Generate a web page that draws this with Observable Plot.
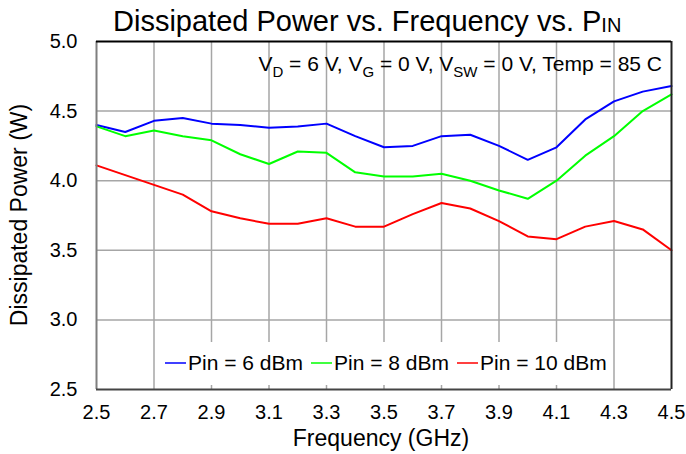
<!DOCTYPE html>
<html>
<head>
<meta charset="utf-8">
<script src="https://cdn.jsdelivr.net/npm/d3@7"></script>
<script src="https://cdn.jsdelivr.net/npm/@observablehq/plot@0.6"></script>
<style>
  html, body { margin: 0; padding: 0; background: #fff; }
  #chart svg { display: block; font-family: "Liberation Sans", Arial, sans-serif; }
</style>
</head>
<body>
<div id="chart"></div>
<script>
const freq = [2.5, 2.6, 2.7, 2.8, 2.9, 3.0, 3.1, 3.2, 3.3, 3.4, 3.5, 3.6, 3.7, 3.8, 3.9, 4.0, 4.1, 4.2, 4.3, 4.4, 4.5];
const pin6  = [4.40, 4.35, 4.43, 4.45, 4.41, 4.40, 4.38, 4.39, 4.41, 4.32, 4.24, 4.25, 4.32, 4.33, 4.25, 4.15, 4.24, 4.44, 4.57, 4.64, 4.68];
const pin8  = [4.39, 4.32, 4.36, 4.32, 4.29, 4.19, 4.12, 4.21, 4.20, 4.06, 4.03, 4.03, 4.05, 4.00, 3.93, 3.87, 4.00, 4.18, 4.32, 4.50, 4.62];
const pin10 = [4.11, 4.04, 3.97, 3.90, 3.78, 3.73, 3.69, 3.69, 3.73, 3.67, 3.67, 3.76, 3.84, 3.80, 3.71, 3.60, 3.58, 3.67, 3.71, 3.65, 3.50];
const seriesNames = ["Pin = 6 dBm", "Pin = 8 dBm", "Pin = 10 dBm"];
const seriesColors = ["#0000ff", "#00ff00", "#ff0000"];
const xTicks = [2.5, 2.7, 2.9, 3.1, 3.3, 3.5, 3.7, 3.9, 4.1, 4.3, 4.5];
const yTicks = [2.5, 3.0, 3.5, 4.0, 4.5, 5.0];
const titleText = "Dissipated Power vs. Frequency vs. P";
const titleSub = "IN";
const xLabel = "Frequency (GHz)";
const yLabel = "Dissipated Power (W)";

const allSeries = [pin6, pin8, pin10];
const data = [];
allSeries.forEach((vals, si) => vals.forEach((v, i) => data.push({f: freq[i], p: v, s: seriesNames[si]})));

const W = 686, H = 454;
const mL = 96, mR = 15, mT = 41, mB = 65;

const chart = Plot.plot({
  width: W, height: H,
  marginLeft: mL, marginRight: mR, marginTop: mT, marginBottom: mB,
  style: {fontFamily: "Liberation Sans, Arial, sans-serif", background: "#fff"},
  x: {domain: [2.5, 4.5], label: null},
  y: {domain: [2.5, 5.0], label: null},
  color: {domain: seriesNames, range: seriesColors},
  marks: [
    Plot.ruleX(xTicks.slice(1, -1), {stroke: "#a6a6a6", strokeWidth: 1.5}),
    Plot.ruleY(yTicks.slice(1, -1), {stroke: "#a6a6a6", strokeWidth: 1.5}),
    Plot.line(data, {x: "f", y: "p", z: "s", stroke: "s", strokeWidth: 2}),
    Plot.ruleX([2.5], {stroke: "#7f7f7f", strokeWidth: 2}),
    Plot.ruleX([4.5], {stroke: "#222", strokeWidth: 2}),
    Plot.ruleY([2.5], {stroke: "#444", strokeWidth: 2}),
    Plot.ruleY([5.0], {stroke: "#000", strokeWidth: 2}),
    Plot.axisX(xTicks, {tickSize: 0, tickPadding: 15, fontSize: 20, tickFormat: d => d.toFixed(1), label: null, fill: "#000"}),
    Plot.axisY(yTicks, {tickSize: 0, tickPadding: 19, fontSize: 20, tickFormat: d => d.toFixed(1), label: null, fill: "#000"})
  ]
});
document.getElementById("chart").appendChild(chart);

const svg = d3.select(chart);
// Title
const t = svg.append("text").attr("x", 113).attr("y", 31).attr("text-anchor", "start")
  .attr("font-size", 29).attr("fill", "#000");
t.append("tspan").text(titleText);
t.append("tspan").attr("font-size", 20).attr("dy", 1).text(titleSub);

// Axis labels
svg.append("text").attr("x", 381).attr("y", 446).attr("text-anchor", "middle")
  .attr("font-size", 23).attr("fill", "#000").text(xLabel);
svg.append("text").attr("transform", `translate(27,${(mT + H - mB) / 2}) rotate(-90)`)
  .attr("text-anchor", "middle").attr("font-size", 23).attr("fill", "#000").text(yLabel);

// Condition annotation with subscripts
const ann = svg.append("text").attr("x", 662).attr("y", 71).attr("text-anchor", "end")
  .attr("font-size", 21).attr("fill", "#000");
const parts = [["V", 0], ["D", 1], [" = 6 V, V", 0], ["G", 1], [" = 0 V, V", 0], ["SW", 1], [" = 0 V, Temp = 85 C", 0]];
let prevSub = 0;
parts.forEach(([s, sub]) => {
  const dy = (sub - prevSub) * 6;
  ann.append("tspan").attr("dy", dy).attr("font-size", sub ? 15 : 21).text(s);
  prevSub = sub;
});

// Legend
const lg = svg.append("g");
lg.append("rect").attr("x", 158).attr("y", 342).attr("width", 452).attr("height", 43).attr("fill", "#fff");
const legendX = [165, 311, 457];
seriesNames.forEach((name, i) => {
  lg.append("line").attr("x1", legendX[i]).attr("x2", legendX[i] + 21).attr("y1", 363).attr("y2", 363)
    .attr("stroke", seriesColors[i]).attr("stroke-width", 1.5);
  lg.append("text").attr("x", legendX[i] + 23).attr("y", 370).attr("text-anchor", "start")
    .attr("font-size", 21).attr("fill", "#000").text(name);
});
</script>
</body>
</html>
